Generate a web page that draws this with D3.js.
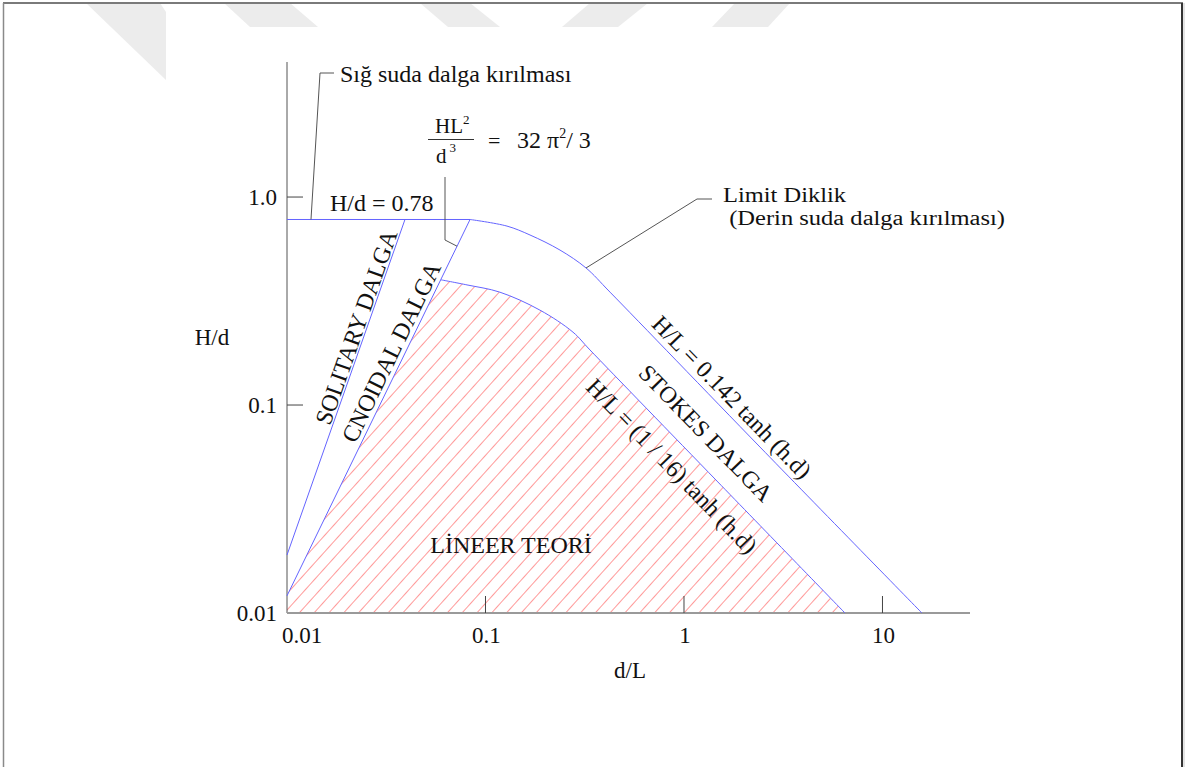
<!DOCTYPE html>
<html>
<head>
<meta charset="utf-8">
<script src="https://cdn.jsdelivr.net/npm/d3@7"></script>
<style>
  html, body { margin: 0; padding: 0; background: #fff; }
  svg { display: block; }
  text { fill: #111; }
</style>
</head>
<body>
<svg id="chart" width="1198" height="767" font-family="Liberation Serif, Times New Roman, serif"></svg>
<script>
// ---- axis ticks ----
const xTicks = [0.01, 0.1, 1, 10];
const xTickLabels = ["0.01", "0.1", "1", "10"];
const yTicks = [0.01, 0.1, 1];
const yTickLabels = ["0.01", "0.1", "1.0"];

// ---- wave theory boundaries (d/L, H/d) ----
// shallow-water breaking limit H/d = 0.78
const breakingHd = 0.78;
const breakingSpan = [0.01, 0.0836];
// solitary / cnoidal boundary
const solitaryLine = [[0.01, 0.0190], [0.0393, 0.78]];
// cnoidal / linear boundary, HL^2/d^3 = 32 pi^2 / 3
const cnoidalLine = [[0.01, 0.0121], [0.0836, 0.78]];
// limit steepness H/L = 0.142 tanh(kd)
const steepnessCurve = [
  [0.0836, 0.78], [0.1283, 0.725], [0.1676, 0.657], [0.2373, 0.556],
  [0.321, 0.456], [0.424, 0.349], [2.415, 0.0628], [15.8, 0.01]
];
// linear theory limit H/L = (1/16) tanh(kd)
const linearCurve = [
  [0.0597, 0.40], [0.0807, 0.378], [0.118, 0.349], [0.188, 0.286],
  [0.276, 0.224], [0.336, 0.184], [1.466, 0.0431], [6.47, 0.01]
];

// ---- texts ----
const xTitle = "d/L";
const yTitle = "H/d";
const breakingLabel = "H/d = 0.78";
const shallowBreakLabel = "Sığ suda dalga kırılması";
const limitLabel = ["Limit Diklik", " (Derin suda dalga kırılması)"];
const regionLabels = ["SOLITARY DALGA", "CNOIDAL DALGA", "STOKES DALGA", "LİNEER TEORİ"];
const steepnessLabel = "H/L = 0.142 tanh (h.d)";
const linearLabel = "H/L = (1 / 16) tanh (h.d)";

const svg = d3.select("#chart");
const W = 1198, H = 767;

// ---- page frame and faint background emblem ----
const emblem = [
  [[86,3],[160,3],[166,12],[166,80]],
  [[224,3],[290,3],[318,27],[250,27]],
  [[420,3],[470,3],[500,27],[448,27]],
  [[590,3],[648,3],[618,27],[562,27]],
  [[735,3],[790,3],[768,27],[712,27]]
];
svg.append("g").selectAll("polygon").data(emblem).join("polygon")
  .attr("points", d => d.map(p => p.join(",")).join(" "))
  .attr("fill", "#ececec");

svg.append("line").attr("x1", 3).attr("x2", 1183).attr("y1", 3).attr("y2", 3)
  .attr("stroke", "#7a7a7a").attr("stroke-width", 2);
svg.append("line").attr("x1", 3.5).attr("x2", 3.5).attr("y1", 3).attr("y2", H)
  .attr("stroke", "#8a8a8a").attr("stroke-width", 1.5);
svg.append("line").attr("x1", 1182).attr("x2", 1182).attr("y1", 3).attr("y2", H)
  .attr("stroke", "#333").attr("stroke-width", 2);
svg.append("line").attr("x1", 1184).attr("x2", 1184).attr("y1", 3).attr("y2", H)
  .attr("stroke", "#c8c8c8").attr("stroke-width", 1);

// ---- scales ----
const x = d3.scaleLog().domain([0.01, 27.6]).range([287, 970]);
const y = d3.scaleLog().domain([0.01, 4.46]).range([613, 62]);

const line = d3.line().x(d => x(d[0])).y(d => y(d[1]));
const smooth = d3.line().x(d => x(d[0])).y(d => y(d[1])).curve(d3.curveCatmullRom.alpha(0.5));

// ---- hatch for the linear theory region ----
const defs = svg.append("defs");
const pat = defs.append("pattern").attr("id", "hatch")
  .attr("patternUnits", "userSpaceOnUse")
  .attr("width", 11).attr("height", 11)
  .attr("patternTransform", "rotate(42)");
pat.append("line").attr("x1", 5.5).attr("x2", 5.5).attr("y1", -1).attr("y2", 12)
  .attr("stroke", "#ff9a9a").attr("stroke-width", 1);

const hatchPath = "M" + x(0.01) + "," + y(0.01) +
  "L" + x(cnoidalLine[0][0]) + "," + y(cnoidalLine[0][1]) +
  smooth(linearCurve).replace(/^M/, "L") + "Z";
svg.append("path").attr("d", hatchPath).attr("fill", "url(#hatch)");

// ---- axes ----
const axisG = svg.append("g");
axisG.append("line").attr("x1", x(0.01)).attr("x2", x(0.01))
  .attr("y1", y.range()[1]).attr("y2", y(0.01))
  .attr("stroke", "#555").attr("stroke-width", 1);
axisG.append("line").attr("x1", x(0.01)).attr("x2", x.range()[1])
  .attr("y1", y(0.01)).attr("y2", y(0.01))
  .attr("stroke", "#9a9a9a").attr("stroke-width", 2);

axisG.selectAll(".xt").data(xTicks.slice(1)).join("line")
  .attr("x1", d => x(d)).attr("x2", d => x(d))
  .attr("y1", y(0.01)).attr("y2", y(0.01) - 17)
  .attr("stroke", "#444").attr("stroke-width", 1);
axisG.selectAll(".yt").data(yTicks.slice(1)).join("line")
  .attr("x1", x(0.01)).attr("x2", x(0.01) + 16)
  .attr("y1", d => y(d)).attr("y2", d => y(d))
  .attr("stroke", "#444").attr("stroke-width", 1);

axisG.selectAll(".xl").data(xTicks).join("text")
  .attr("x", (d, i) => x(d) + (i === 0 ? 15 : 1))
  .attr("y", 643)
  .attr("text-anchor", "middle")
  .attr("font-size", 23)
  .text((d, i) => xTickLabels[i]);
axisG.selectAll(".yl").data(yTicks).join("text")
  .attr("x", 277)
  .attr("y", d => y(d) + 8)
  .attr("text-anchor", "end")
  .attr("font-size", 23)
  .text((d, i) => yTickLabels[i]);

svg.append("text").attr("x", 630).attr("y", 678).attr("text-anchor", "middle")
  .attr("font-size", 23).text(xTitle);
svg.append("text").attr("x", 212).attr("y", 345).attr("text-anchor", "middle")
  .attr("font-size", 23).text(yTitle);

// ---- boundary curves ----
const blue = "#6464ff";
const curves = svg.append("g").attr("fill", "none").attr("stroke", blue).attr("stroke-width", 1);
curves.append("path").attr("d", line(breakingSpan.map(v => [v, breakingHd])));
curves.append("path").attr("d", line(solitaryLine));
curves.append("path").attr("d", line(cnoidalLine));
curves.append("path").attr("d", smooth(steepnessCurve));
curves.append("path").attr("d", smooth(linearCurve));

// ---- leader lines ----
const leader = svg.append("g").attr("fill", "none").attr("stroke", "#555").attr("stroke-width", 1);
// shallow-water breaking
const sbx = x(0.01321), sby = y(breakingHd);
leader.append("polyline").attr("points", [[sbx, sby], [320, 73], [334, 73]].map(p => p.join(",")).join(" "));
// Ursell parameter pointer: anchor on the cnoidal boundary
function onLogSegment(seg, xv) {
  const [a, b] = seg;
  const t = (Math.log10(xv) - Math.log10(a[0])) / (Math.log10(b[0]) - Math.log10(a[0]));
  return [xv, Math.pow(10, Math.log10(a[1]) + t * (Math.log10(b[1]) - Math.log10(a[1])))];
}
const ua = onLogSegment(cnoidalLine, 0.0719);
leader.append("polyline").attr("points", [[445, 177], [445, 240], [x(ua[0]), y(ua[1])]].map(p => p.join(",")).join(" "));
// limit steepness
const la = steepnessCurve[4];
leader.append("polyline").attr("points", [[x(la[0]), y(la[1])], [697, 199], [712, 199]].map(p => p.join(",")).join(" "));

// ---- annotations ----
svg.append("text").attr("x", 340).attr("y", 82).attr("font-size", 24).text(shallowBreakLabel);
svg.append("text").attr("x", 330).attr("y", y(breakingHd) - 8).attr("font-size", 24).text(breakingLabel);
svg.append("text").attr("x", 723).attr("y", 202).attr("font-size", 20.5)
  .attr("textLength", 123).attr("lengthAdjust", "spacingAndGlyphs").text(limitLabel[0]);
svg.append("text").attr("x", 723).attr("y", 225).attr("font-size", 20.5)
  .attr("xml:space", "preserve")
  .attr("textLength", 282).attr("lengthAdjust", "spacingAndGlyphs").text(limitLabel[1]);

// HL^2 / d^3 = 32 pi^2 / 3
const f = svg.append("g");
const num = f.append("text").attr("x", 435).attr("y", 133).attr("font-size", 21);
num.append("tspan").text("HL");
num.append("tspan").attr("font-size", 13).attr("dy", -9).text("2");
f.append("line").attr("x1", 428).attr("x2", 474).attr("y1", 139.5).attr("y2", 139.5)
  .attr("stroke", "#333").attr("stroke-width", 1);
const den = f.append("text").attr("x", 436).attr("y", 163).attr("font-size", 21);
den.append("tspan").text("d");
den.append("tspan").attr("font-size", 13).attr("dy", -11).attr("dx", 3).text("3");
f.append("text").attr("x", 488).attr("y", 148).attr("font-size", 22).text("=");
const rhs = f.append("text").attr("x", 517).attr("y", 148).attr("font-size", 24);
rhs.append("tspan").text("32 π");
rhs.append("tspan").attr("font-size", 14).attr("dy", -10).text("2");
rhs.append("tspan").attr("dy", 10).text("/ 3");

// rotated region labels
function rotated(cx, cy, angle, txt, size) {
  svg.append("text")
    .attr("transform", `translate(${cx},${cy}) rotate(${angle})`)
    .attr("text-anchor", "middle").attr("dy", "0.35em")
    .attr("font-size", size).text(txt);
}
const angSol = Math.atan2(y(solitaryLine[1][1]) - y(solitaryLine[0][1]), x(solitaryLine[1][0]) - x(solitaryLine[0][0])) * 180 / Math.PI;
const angCno = Math.atan2(y(cnoidalLine[1][1]) - y(cnoidalLine[0][1]), x(cnoidalLine[1][0]) - x(cnoidalLine[0][0])) * 180 / Math.PI;
const sA = steepnessCurve[5], sB = steepnessCurve[7];
const angSt = Math.atan2(y(sB[1]) - y(sA[1]), x(sB[0]) - x(sA[0])) * 180 / Math.PI;

rotated(356, 327, angSol, regionLabels[0], 24);
rotated(391, 352, angCno, regionLabels[1], 24);
rotated(706, 433, angSt, regionLabels[2], 24);
rotated(732, 397, angSt, steepnessLabel, 24);
rotated(672, 466, angSt, linearLabel, 24);
svg.append("text").attr("x", 511).attr("y", 553).attr("text-anchor", "middle")
  .attr("font-size", 24).text(regionLabels[3]);
</script>
</body>
</html>
